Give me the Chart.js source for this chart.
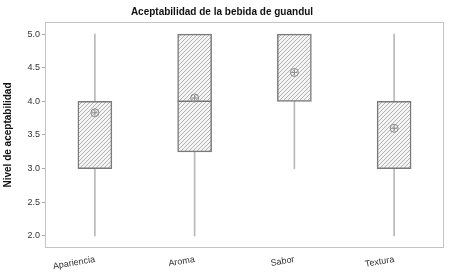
<!DOCTYPE html>
<html><head><meta charset="utf-8">
<script src="https://cdn.jsdelivr.net/npm/chart.js@4"></script>
<style>html,body{margin:0;padding:0;background:#fff}#wrap{width:451px;height:273px}</style>
</head><body><div id="wrap"><canvas id="c" width="451" height="273"></canvas></div>
<script>
const categories = ["Apariencia", "Aroma", "Sabor", "Textura"];
const minVals = [2.0, 2.0, 3.0, 2.0];
const q1Vals = [3.0, 3.25, 4.0, 3.0];
const medianVals = [null, 4.0, null, null];
const q3Vals = [4.0, 5.0, 5.0, 4.0];
const maxVals = [5.0, 5.0, 5.0, 5.0];
const meanVals = [3.83, 4.05, 4.43, 3.60];
const yTicks = [2.0, 2.5, 3.0, 3.5, 4.0, 4.5, 5.0];

function hatch() {
  const s = 4;
  const p = document.createElement('canvas');
  p.width = s; p.height = s;
  const g = p.getContext('2d');
  g.fillStyle = '#f4f4f4'; g.fillRect(0, 0, s, s);
  g.strokeStyle = '#b4b4b4'; g.lineWidth = 1;
  g.beginPath();
  g.moveTo(-1, s + 1); g.lineTo(s + 1, -1);
  g.moveTo(-1, 1); g.lineTo(1, -1);
  g.moveTo(s - 1, s + 1); g.lineTo(s + 1, s - 1);
  g.stroke();
  return document.getElementById('c').getContext('2d').createPattern(p, 'repeat');
}

const frame = {
  id: 'frame',
  afterDraw(chart) {
    const a = chart.chartArea, ctx = chart.ctx;
    ctx.save();
    ctx.strokeStyle = '#c4c4c4'; ctx.lineWidth = 1;
    ctx.strokeRect(Math.round(a.left) + 0.5, Math.round(a.top) + 0.5, Math.round(a.right - a.left) - 1, Math.round(a.bottom - a.top) - 1);
    ctx.restore();
  }
};

new Chart(document.getElementById('c'), {
  data: {
    labels: categories,
    datasets: [
      { type: 'line', data: meanVals, showLine: false, pointStyle: 'circle', pointRadius: 4, pointBorderColor: '#888', pointBackgroundColor: 'rgba(0,0,0,0)', pointBorderWidth: 1, order: 0 },
      { type: 'line', data: meanVals, showLine: false, pointStyle: 'cross', pointRadius: 3, pointBorderColor: '#888', pointBorderWidth: 1, order: 0 },
      { type: 'line', data: medianVals, showLine: false, pointStyle: 'line', pointRadius: 17, pointBorderColor: '#777', pointBorderWidth: 1.5, order: 1 },
      { type: 'bar', data: categories.map((c, i) => [q1Vals[i], q3Vals[i]]), backgroundColor: hatch(), borderColor: '#7a7a7a', borderWidth: 1.5, borderSkipped: false, barThickness: 34, grouped: false, order: 2 },
      { type: 'bar', data: categories.map((c, i) => [minVals[i], maxVals[i]]), backgroundColor: '#b8b8b8', borderWidth: 0, barThickness: 1, grouped: false, order: 3 }
    ]
  },
  options: {
    responsive: false,
    animation: false,
    layout: { autoPadding: false, padding: { left: 0, right: 7, top: 0, bottom: 0 } },
    plugins: {
      legend: { display: false },
      tooltip: { enabled: false },
      title: { display: true, text: 'Aceptabilidad de la bebida de guandul', color: '#111', font: { family: 'Liberation Sans', size: 10, weight: 'bold' }, padding: { top: 6, bottom: 4 } }
    },
    scales: {
      x: {
        offset: true,
        grid: { display: false, drawTicks: false },
        border: { display: false },
        afterFit(s) { s.height = 25; s.paddingLeft = 0; s.paddingRight = 0; },
        ticks: { color: '#333', font: { family: 'Liberation Sans', size: 9 }, minRotation: 10, maxRotation: 10, padding: 6 }
      },
      y: {
        min: 1.82, max: 5.18,
        afterBuildTicks(s) { s.ticks = yTicks.map(v => ({ value: v })); },
        afterFit(s) { s.width = 45; },
        grid: { display: true, drawOnChartArea: false, drawTicks: true, tickLength: 3, color: '#aaa' },
        border: { display: false },
        title: { display: true, text: 'Nivel de aceptabilidad', color: '#111', font: { family: 'Liberation Sans', size: 10, weight: 'bold' }, padding: 2 },
        ticks: { color: '#333', font: { family: 'Liberation Sans', size: 9 }, padding: 2, callback: v => Number(v).toFixed(1) }
      }
    }
  },
  plugins: [frame]
});
</script></body></html>
